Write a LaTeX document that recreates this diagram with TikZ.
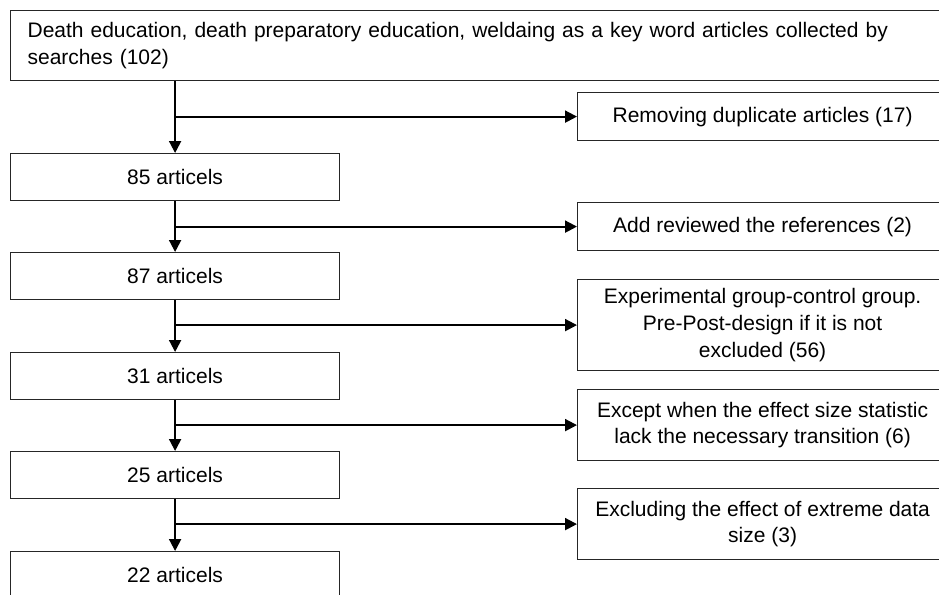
\documentclass[tikz,border=0pt]{standalone}
\usepackage{fontspec}
\setmainfont{Liberation Sans}
\usetikzlibrary{arrows.meta}
\tikzset{
  box/.style={draw=black!85, line width=1.2pt, inner sep=0pt, anchor=north west, align=center,
    font=\fontsize{21}{26.7}\selectfont},
  mainbox/.style={box, minimum width=329, minimum height=47},
  sidebox/.style={box, minimum width=370},
  arr/.style={draw=black, line width=2pt, -{Triangle[length=12pt,width=12pt]}},
}
\begin{document}
\begin{tikzpicture}[x=1pt,y=-1pt]
\useasboundingbox (0,0) rectangle (939,594);
\clip (0,0) rectangle (939,594);
\node[box, minimum width=950, minimum height=70, align=left, text width=916, inner xsep=17pt] (top) at (10,10)
  {Death education, death preparatory education, weldaing as a key word articles collected by\\searches (102)};
\node[sidebox, minimum height=48] (rem) at (577,92) {Removing duplicate articles (17)};
\node[mainbox] (n85) at (10,153) {85 articels};
\node[sidebox, minimum height=48] (add) at (577,202) {Add reviewed the references (2)};
\node[mainbox] (n87) at (10,252) {87 articels};
\node[sidebox, minimum height=91] (exp) at (577,279) {Experimental group-control group.\\Pre-Post-design if it is not\\excluded (56)};
\node[mainbox] (n31) at (10,352) {31 articels};
\node[sidebox, minimum height=71] (exc) at (577,389) {Except when the effect size statistic\\lack the necessary transition (6)};
\node[mainbox] (n25) at (10,451) {25 articels};
\node[sidebox, minimum height=71] (ext) at (577,488) {Excluding the effect of extreme data\\size (3)};
\node[mainbox] (n22) at (10,551) {22 articels};
% vertical arrows
\draw[arr] (top.south -| n85.north) -- (n85.north);
\draw[arr] (n85.south) -- (n87.north);
\draw[arr] (n87.south) -- (n31.north);
\draw[arr] (n31.south) -- (n25.north);
\draw[arr] (n25.south) -- (n22.north);
% branches
\draw[arr] (n85.north |- rem.west) -- (rem.west);
\draw[arr] (n85.north |- add.west) -- (add.west);
\draw[arr] (n85.north |- exp.west) -- (exp.west);
\draw[arr] (n85.north |- exc.west) -- (exc.west);
\draw[arr] (n85.north |- ext.west) -- (ext.west);
\end{tikzpicture}
\end{document}
